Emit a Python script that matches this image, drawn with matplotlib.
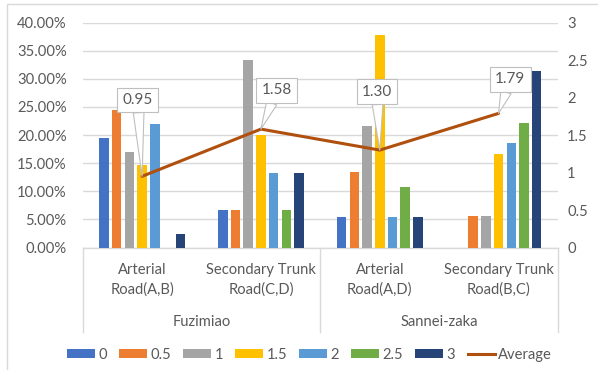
import matplotlib
matplotlib.use("Agg")
import matplotlib.pyplot as plt
from matplotlib.patches import Patch, Rectangle
from matplotlib.lines import Line2D
from matplotlib.ticker import FuncFormatter, MultipleLocator

plt.rcParams["font.family"] = ["Lato", "DejaVu Sans"]

# Sub-categories and their parent groups
roads = ["Arterial\nRoad(A,B)", "Secondary Trunk\nRoad(C,D)",
         "Arterial\nRoad(A,D)", "Secondary Trunk\nRoad(B,C)"]
groups = ["Fuzimiao", "Sannei-zaka"]

# Score levels (one bar series each), share of responses in %
levels = ["0", "0.5", "1", "1.5", "2", "2.5", "3"]
share_0 = [19.51, 6.67, 5.41, 0.0]
share_05 = [24.39, 6.67, 13.51, 5.56]
share_1 = [17.07, 33.33, 21.62, 5.56]
share_15 = [14.63, 20.00, 37.84, 16.67]
share_2 = [21.95, 13.33, 5.41, 18.52]
share_25 = [0.0, 6.67, 10.81, 22.22]
share_3 = [2.44, 13.33, 5.41, 31.48]
shares = [share_0, share_05, share_1, share_15, share_2, share_25, share_3]

# Average score per road (secondary axis)
average = [0.95, 1.58, 1.30, 1.79]

colors = ["#4472C4", "#ED7D31", "#A5A5A5", "#FFC000", "#5B9BD5", "#70AD47", "#264478"]
line_color = "#B0500E"
text_color = "#595959"
grid_color = "#D9D9D9"
fs = 10.6

W, H = 598, 370
fig = plt.figure(figsize=(W / 100, H / 100), dpi=100)
ax = fig.add_axes([82.7 / W, 1 - 247.5 / H, (558 - 82.7) / W, (247.5 - 22.7) / H])

centers = [i + 0.5 for i in range(len(roads))]
pitch = 0.107
width = 0.08
for k, (vals, col) in enumerate(zip(shares, colors)):
    xs = [c + (k - 3) * pitch for c in centers]
    ax.bar(xs, vals, width=width, color=col, zorder=3)

ax.set_xlim(0, len(roads))
ax.set_ylim(0, 40)
ax.yaxis.set_major_locator(MultipleLocator(5))
ax.yaxis.set_major_formatter(FuncFormatter(lambda v, p: f"{v:.2f}%"))
ax.grid(axis="y", color=grid_color, lw=1, zorder=0)
ax.set_xticks([])
ax.tick_params(axis="y", length=0, pad=11.5, labelsize=fs, labelcolor=text_color)
for s in ["left", "right", "top"]:
    ax.spines[s].set_visible(False)
ax.spines["bottom"].set_color(grid_color)
ax.spines["bottom"].set_linewidth(1)

# Secondary axis for the average score
ax2 = ax.twinx()
ax2.set_ylim(0, 3)
ax2.yaxis.set_major_locator(MultipleLocator(0.5))
ax2.yaxis.set_major_formatter(FuncFormatter(lambda v, p: f"{v:g}"))
ax2.tick_params(axis="y", length=0, pad=6.5, labelsize=fs, labelcolor=text_color)
for s in ax2.spines.values():
    s.set_visible(False)
ax2.plot(centers, average, color=line_color, lw=2.2, zorder=4, solid_capstyle="round")

# Callout labels for the averages
offsets = [(-3, 55), (11.5, 28), (-2, 42), (8.5, 24.5)]
for c, v, off in zip(centers, average, offsets):
    ax2.annotate(f"{v:.2f}", xy=(c, v), xytext=off, textcoords="offset points",
                 ha="center", va="center", fontsize=11, color=text_color,
                 bbox=dict(boxstyle="square,pad=0.35", fc="white", ec="#BFBFBF", lw=0.8),
                 arrowprops=dict(arrowstyle="wedge,tail_width=0.7,shrink_factor=0.5",
                                 fc="white", ec="#BFBFBF", lw=0.8,
                                 shrinkA=0, shrinkB=0),
                 zorder=6)

# Two-level category axis
tr = ax.get_xaxis_transform()
for c, name in zip(centers, roads):
    l1, l2 = name.split("\n")
    ax.text(c, -0.100, l1, transform=tr, ha="center", va="center", fontsize=fs, color=text_color)
    ax.text(c, -0.189, l2, transform=tr, ha="center", va="center", fontsize=fs, color=text_color)
for j, g in enumerate(groups):
    ax.text(1 + 2 * j, -0.332, g, transform=tr, ha="center", va="center", fontsize=fs, color=text_color)
for x in [0, 2, 4]:
    ax.plot([x, x], [0, -0.376], transform=tr, color=grid_color, lw=1, clip_on=False)

# Legend
handles = [Patch(facecolor=c, edgecolor="none") for c in colors]
handles.append(Line2D([], [], color=line_color, lw=2.2))
fig.legend(handles, levels + ["Average"], loc="center", bbox_to_anchor=(0.518, 1 - 355 / H),
           ncol=8, frameon=False, fontsize=fs, labelcolor=text_color,
           handlelength=1.9, handleheight=0.6, handletextpad=0.2, columnspacing=0.85)

# Chart area border
fig.add_artist(Rectangle((7 / W, -0.1), 1.2, 1 - 4 / H + 0.1, transform=fig.transFigure,
                         fill=False, ec=grid_color, lw=1))

fig.savefig("out.png", dpi=100)
